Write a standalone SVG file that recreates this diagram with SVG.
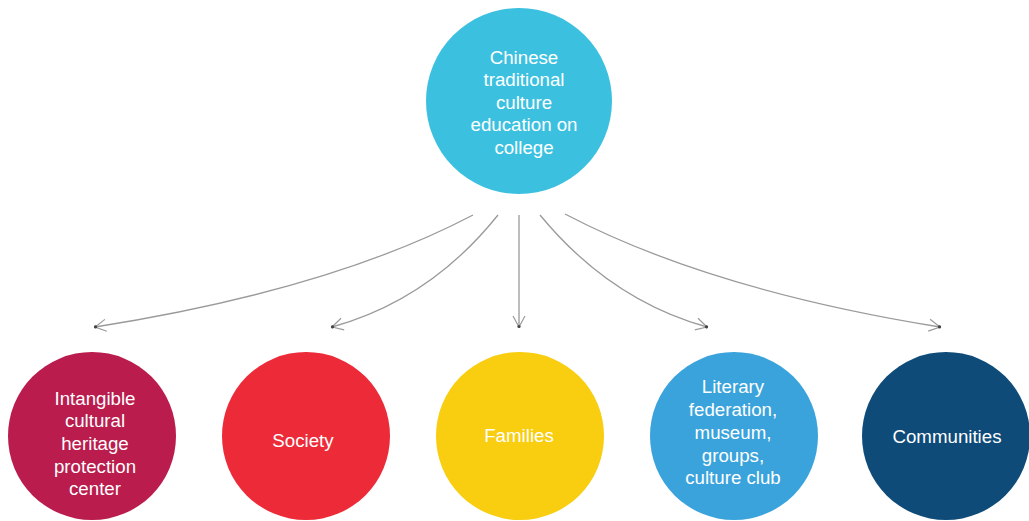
<svg xmlns="http://www.w3.org/2000/svg" width="1029" height="521" viewBox="0 0 1029 521">
  <defs>
    <style>
      .label { font-family: "Liberation Sans", Arial, sans-serif; font-size: 18.7px; fill: #ffffff; text-anchor: middle; }
      .link { fill: none; stroke: #9a9a9a; stroke-width: 1.3; marker-end: url(#head); }
    </style>
    <marker id="head" markerUnits="userSpaceOnUse" markerWidth="18" markerHeight="18" refX="13" refY="9" orient="auto">
      <path d="M2,3 L13,9 L2,15" fill="none" stroke="#9a9a9a" stroke-width="1.2"/>
      <circle cx="12.5" cy="9" r="1.6" fill="#444"/>
    </marker>
  </defs>
  <rect width="1029" height="521" fill="#ffffff"/>

  <g id="connectors">
    <path class="link" d="M473,215 Q330,290 95,327"/>
    <path class="link" d="M498,215 Q430,300 332,327"/>
    <path class="link" d="M519,215 L519,327"/>
    <path class="link" d="M540,215 Q610,300 707,327"/>
    <path class="link" d="M565,214 Q710,290 940,327"/>
  </g>

  <g id="college">
    <circle cx="519" cy="101" r="93" fill="#3bc1df"/>
    <text class="label" x="524" y="64">Chinese</text>
    <text class="label" x="524" y="86">traditional</text>
    <text class="label" x="524" y="109">culture</text>
    <text class="label" x="524" y="131">education on</text>
    <text class="label" x="524" y="154">college</text>
  </g>

  <g id="heritage">
    <circle cx="92" cy="436" r="84" fill="#b91c4d"/>
    <text class="label" x="95" y="405">Intangible</text>
    <text class="label" x="95" y="427">cultural</text>
    <text class="label" x="95" y="450">heritage</text>
    <text class="label" x="95" y="473">protection</text>
    <text class="label" x="95" y="495">center</text>
  </g>

  <g id="society">
    <circle cx="306" cy="436" r="84" fill="#ec2a38"/>
    <text class="label" x="303" y="447">Society</text>
  </g>

  <g id="families">
    <circle cx="520" cy="436" r="84" fill="#f9cd10"/>
    <text class="label" x="519" y="442">Families</text>
  </g>

  <g id="literary">
    <circle cx="734" cy="436" r="84" fill="#3aa3dc"/>
    <text class="label" x="733" y="393">Literary</text>
    <text class="label" x="733" y="416">federation,</text>
    <text class="label" x="733" y="439">museum,</text>
    <text class="label" x="733" y="462">groups,</text>
    <text class="label" x="733" y="484">culture club</text>
  </g>

  <g id="communities">
    <circle cx="946" cy="436" r="84" fill="#0e4b79"/>
    <text class="label" x="947" y="443">Communities</text>
  </g>
</svg>
